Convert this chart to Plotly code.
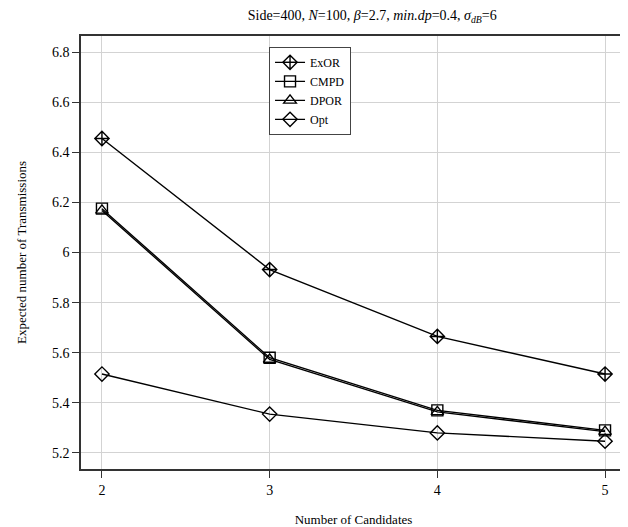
import plotly.graph_objects as go

candidates = [2, 3, 4, 5]
exor = [6.455, 5.932, 5.665, 5.515]
cmpd = [6.175, 5.580, 5.370, 5.290]
dpor = [6.168, 5.573, 5.364, 5.285]
opt = [5.515, 5.355, 5.280, 5.247]

series = [
    ("ExOR", exor, "diamond-cross-open"),
    ("CMPD", cmpd, "square-open"),
    ("DPOR", dpor, "triangle-up-open"),
    ("Opt", opt, "diamond-open"),
]

FONT = "Liberation Serif"
fig = go.Figure()
for name, ys, sym in series:
    fig.add_trace(go.Scatter(
        x=candidates, y=ys, name=name, mode="lines+markers",
        line=dict(color="black", width=1.4),
        marker=dict(symbol=sym, size=11, color="black", line=dict(width=1.4, color="black")),
    ))

fig.update_layout(
    width=628, height=527,
    margin=dict(l=73, r=8, t=28, b=66),
    paper_bgcolor="white", plot_bgcolor="white",
    font=dict(family=FONT, size=14, color="black"),
    title=dict(
        text="Side=400, <i>N</i>=100, <i>β</i>=2.7, <i>min.dp</i>=0.4, <i>σ</i><sub><i>dB</i></sub>=6",
        x=0.58, xanchor="center", y=0.995, yanchor="top",
        font=dict(family=FONT, size=14, color="black"),
    ),
    legend=dict(
        x=0.345, y=0.975, xanchor="left", yanchor="top",
        bgcolor="white", bordercolor="#444", borderwidth=1,
        font=dict(family=FONT, size=12),
        tracegroupgap=0,
    ),
    showlegend=True,
)
fig.update_xaxes(
    range=[1.875, 5.125], tickvals=candidates, ticktext=[str(c) for c in candidates],
    showgrid=True, gridcolor="#d3d3d3", gridwidth=1,
    showline=True, linecolor="#333", linewidth=1.5, mirror=True,
    ticks="outside", ticklen=7, tickcolor="#333", zeroline=False,
    title=dict(text="Number of Candidates", font=dict(family=FONT, size=13), standoff=18),
    tickfont=dict(family=FONT, size=14),
)
fig.update_yaxes(
    range=[5.136, 6.864], tickvals=[5.2, 5.4, 5.6, 5.8, 6.0, 6.2, 6.4, 6.6, 6.8],
    ticktext=["5.2", "5.4", "5.6", "5.8", "6", "6.2", "6.4", "6.6", "6.8"],
    showgrid=True, gridcolor="#d3d3d3", gridwidth=1,
    showline=True, linecolor="#333", linewidth=1.5, mirror=True,
    ticks="outside", ticklen=7, tickcolor="#333", zeroline=False,
    title=dict(text="Expected number of Transmissions", font=dict(family=FONT, size=13), standoff=22),
    tickfont=dict(family=FONT, size=14),
)
fig.write_html("out.html")
